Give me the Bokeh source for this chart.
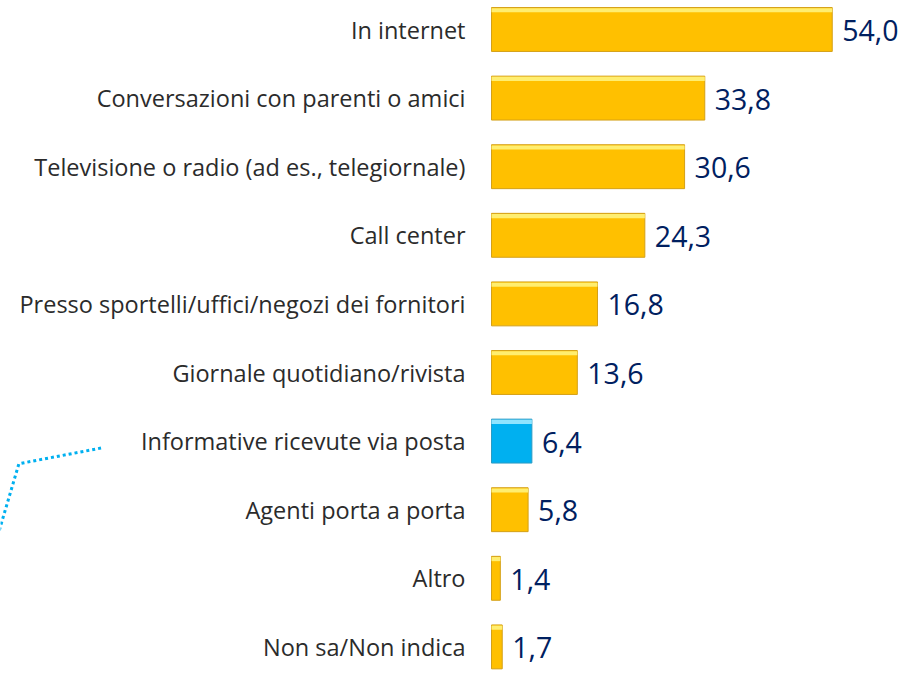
from bokeh.plotting import figure
from bokeh.models import Range1d, ColumnDataSource
from bokeh.core.properties import value
from bokeh.embed import file_html
from bokeh.resources import INLINE

categories = [
    "In internet",
    "Conversazioni con parenti o amici",
    "Televisione o radio (ad es., telegiornale)",
    "Call center",
    "Presso sportelli/uffici/negozi dei fornitori",
    "Giornale quotidiano/rivista",
    "Informative ricevute via posta",
    "Agenti porta a porta",
    "Altro",
    "Non sa/Non indica",
]
values = [54.0, 33.8, 30.6, 24.3, 16.8, 13.6, 6.4, 5.8, 1.4, 1.7]
labels = ["54,0", "33,8", "30,6", "24,3", "16,8", "13,6", "6,4", "5,8", "1,4", "1,7"]
highlight = "Informative ricevute via posta"

# decorative dotted connector (data units)
conn_x = [-78.0, -74.9, -61.8]
conn_y = [7.3, 6.33, 6.1]

rows = list(range(len(categories)))
fills = ["#00B0F0" if c == highlight else "#FFC000" for c in categories]
tops = ["#8FE4FF" if c == highlight else "#FFEE70" for c in categories]
edges = ["#2A9BC4" if c == highlight else "#D4A017" for c in categories]

src = ColumnDataSource(dict(y=rows, v=values, lab=labels, cat=categories,
                            fill=fills, top=tops, edge=edges,
                            ytop=[r - 0.28 for r in rows]))

px_per_unit = 6.31
x0 = -491 / px_per_unit
x1 = (911 - 491) / px_per_unit
row_px = 68.6
first_px = 29
y_top = -first_px / row_px
y_bot = (672 - first_px) / row_px

p = figure(width=911, height=672, output_backend="svg", toolbar_location=None,
           x_range=Range1d(x0, x1), y_range=Range1d(y_bot, y_top),
           min_border=0, outline_line_color=None)
p.axis.visible = False
p.grid.visible = False
p.background_fill_color = "white"

p.hbar(y="y", left=0, right="v", height=0.64, fill_color="fill",
       line_color="edge", line_width=1, source=src)
p.hbar(y="ytop", left=0, right="v", height=0.06, fill_color="top",
       line_color=None, source=src)

p.text(x="v", y="y", text="lab", source=src, x_offset=10, y_offset=1,
       text_font=value("Open Sans"), text_font_size="28.5px",
       text_color="#002060", text_align="left", text_baseline="middle")
p.text(x=0, y="y", text="cat", source=src, x_offset=-26, y_offset=0,
       text_font=value("Open Sans"), text_font_size="23.5px",
       text_color="#2b2b2b", text_align="right", text_baseline="middle")

p.line(conn_x, conn_y, line_color="#00B0F0", line_width=3, line_dash="3 3")

open("out.html", "w").write(file_html(p, INLINE))
